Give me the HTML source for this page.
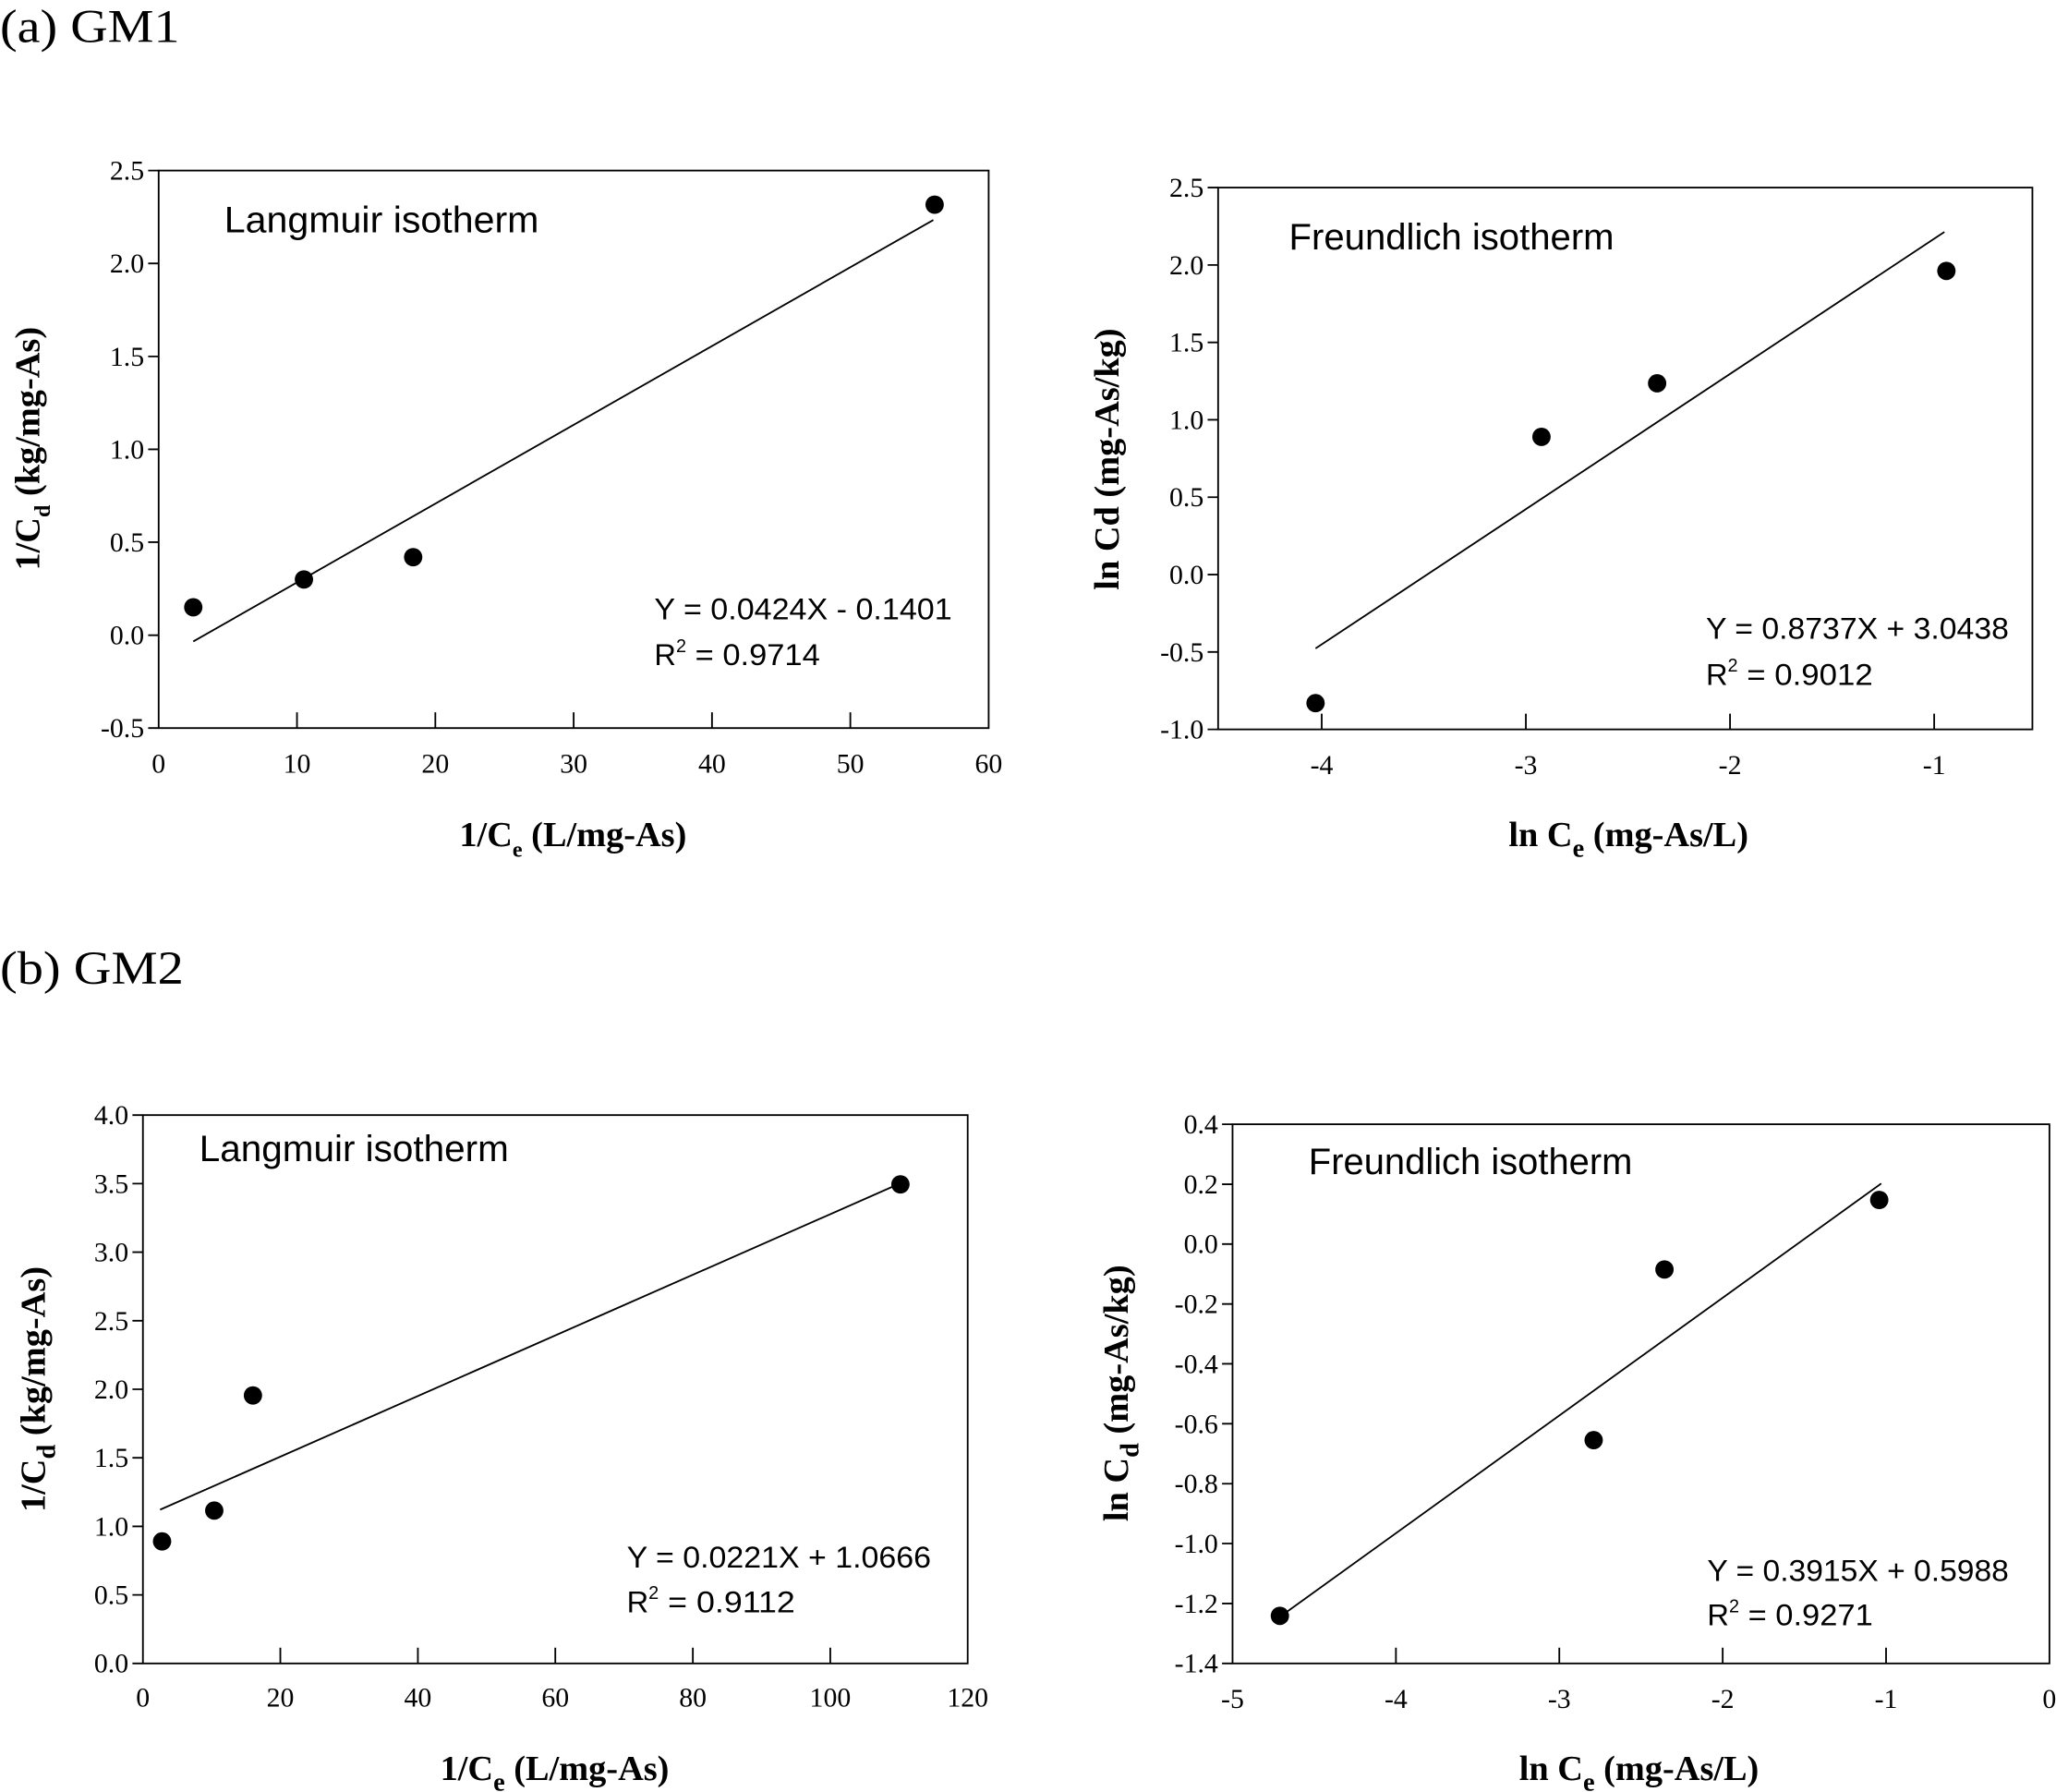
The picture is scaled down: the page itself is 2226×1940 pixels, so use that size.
<!DOCTYPE html>
<html><head><meta charset="utf-8"><style>
html,body{margin:0;padding:0;background:#fff;}
svg{display:block;}
.t{font-family:"Liberation Serif",serif;font-size:21px;fill:#000;}
.ax{font-family:"Liberation Serif",serif;font-size:27px;font-weight:bold;fill:#000;}
.s{font-family:"Liberation Sans",sans-serif;fill:#000;}
</style></head><body>
<svg width="2226" height="1940" viewBox="0 0 1568 1366" preserveAspectRatio="none" xmlns="http://www.w3.org/2000/svg">
<rect width="1568" height="1366" fill="#fff"/>
<text x="0" y="32" font-family="Liberation Serif, serif" font-size="36" textLength="137" lengthAdjust="spacingAndGlyphs">(a) GM1</text>
<text x="0" y="750" font-family="Liberation Serif, serif" font-size="36" textLength="140" lengthAdjust="spacingAndGlyphs">(b) GM2</text>
<g stroke="#000" stroke-width="1.3" fill="none">
<rect x="121" y="130" width="633" height="425"/>
<path d="M113 130H121M113 200.8H121M113 271.7H121M113 342.5H121M113 413.3H121M113 484.2H121M113 555H121"/>
<path d="M226.5 555V543M332 555V543M437.5 555V543M543 555V543M648.5 555V543"/>
<line x1="147.4" y1="489" x2="711.8" y2="167.7"/>
<rect x="929" y="143" width="621" height="413"/>
<path d="M921 143H929M921 202H929M921 261H929M921 320H929M921 379H929M921 438H929M921 497H929M921 556H929"/>
<path d="M1008 556V544M1163.7 556V544M1319.4 556V544M1475.1 556V544"/>
<line x1="1003.3" y1="494.3" x2="1482.9" y2="176.8"/>
<rect x="109" y="850" width="629" height="418"/>
<path d="M101 1268H109M101 1215.75H109M101 1163.5H109M101 1111.25H109M101 1059H109M101 1006.75H109M101 954.5H109M101 902.25H109M101 850H109"/>
<path d="M213.8 1268V1256M318.7 1268V1256M423.5 1268V1256M528.4 1268V1256M633.2 1268V1256"/>
<line x1="122.1" y1="1150.8" x2="688.2" y2="901.3"/>
<rect x="940" y="857" width="623" height="411"/>
<path d="M932 857H940M932 902.7H940M932 948.3H940M932 994H940M932 1039.6H940M932 1085.3H940M932 1131H940M932 1176.6H940M932 1222.3H940M932 1268H940"/>
<path d="M1064.6 1268V1256M1189.2 1268V1256M1313.8 1268V1256M1438.4 1268V1256"/>
<line x1="973.6" y1="1234.3" x2="1434.7" y2="902.2"/>
</g>
<g fill="#000">
<circle cx="147.4" cy="462.9" r="7"/><circle cx="231.8" cy="441.7" r="7"/><circle cx="315.1" cy="424.7" r="7"/><circle cx="712.8" cy="156" r="7"/>
<circle cx="1003.3" cy="536" r="7"/><circle cx="1175.6" cy="333" r="7"/><circle cx="1263.8" cy="292.2" r="7"/><circle cx="1484.4" cy="206.5" r="7"/>
<circle cx="123.6" cy="1175" r="7"/><circle cx="163.4" cy="1151.5" r="7"/><circle cx="192.9" cy="1063.7" r="7"/><circle cx="686.7" cy="902.8" r="7"/>
<circle cx="976.1" cy="1231.7" r="7"/><circle cx="1215.4" cy="1097.8" r="7"/><circle cx="1269.4" cy="967.7" r="7"/><circle cx="1433.2" cy="914.7" r="7"/>
</g>
<g class="t" text-anchor="end">
<text x="110" y="137">2.5</text><text x="110" y="207.8">2.0</text><text x="110" y="278.7">1.5</text><text x="110" y="349.5">1.0</text><text x="110" y="420.3">0.5</text><text x="110" y="491.2">0.0</text><text x="110" y="562">-0.5</text>
<text x="918" y="150">2.5</text><text x="918" y="209">2.0</text><text x="918" y="268">1.5</text><text x="918" y="327">1.0</text><text x="918" y="386">0.5</text><text x="918" y="445">0.0</text><text x="918" y="504">-0.5</text><text x="918" y="563">-1.0</text>
<text x="98" y="857">4.0</text><text x="98" y="909.3">3.5</text><text x="98" y="961.5">3.0</text><text x="98" y="1013.8">2.5</text><text x="98" y="1066">2.0</text><text x="98" y="1118.3">1.5</text><text x="98" y="1170.5">1.0</text><text x="98" y="1222.8">0.5</text><text x="98" y="1275">0.0</text>
<text x="929" y="864">0.4</text><text x="929" y="909.7">0.2</text><text x="929" y="955.3">0.0</text><text x="929" y="1001">-0.2</text><text x="929" y="1046.6">-0.4</text><text x="929" y="1092.3">-0.6</text><text x="929" y="1138">-0.8</text><text x="929" y="1183.6">-1.0</text><text x="929" y="1229.3">-1.2</text><text x="929" y="1275">-1.4</text>
</g>
<g class="t" text-anchor="middle">
<text x="121" y="589">0</text><text x="226.5" y="589">10</text><text x="332" y="589">20</text><text x="437.5" y="589">30</text><text x="543" y="589">40</text><text x="648.5" y="589">50</text><text x="754" y="589">60</text>
<text x="1008" y="590">-4</text><text x="1163.7" y="590">-3</text><text x="1319.4" y="590">-2</text><text x="1475.1" y="590">-1</text>
<text x="109" y="1301">0</text><text x="213.8" y="1301">20</text><text x="318.7" y="1301">40</text><text x="423.5" y="1301">60</text><text x="528.4" y="1301">80</text><text x="633.2" y="1301">100</text><text x="738" y="1301">120</text>
<text x="940" y="1302">-5</text><text x="1064.6" y="1302">-4</text><text x="1189.2" y="1302">-3</text><text x="1313.8" y="1302">-2</text><text x="1438.4" y="1302">-1</text><text x="1563" y="1302">0</text>
</g>
<text class="ax" x="437" y="645" text-anchor="middle">1/C<tspan font-size="17" dy="8">e</tspan><tspan dy="-8"> (L/mg-As)</tspan></text>
<text class="ax" x="1242" y="645" text-anchor="middle">ln C<tspan font-size="20" dy="8">e</tspan><tspan dy="-8"> (mg-As/L)</tspan></text>
<text class="ax" x="423" y="1357" text-anchor="middle">1/C<tspan font-size="20" dy="8">e</tspan><tspan dy="-8"> (L/mg-As)</tspan></text>
<text class="ax" x="1250" y="1357" text-anchor="middle">ln C<tspan font-size="20" dy="8">e</tspan><tspan dy="-8"> (mg-As/L)</tspan></text>
<text class="ax" transform="translate(30,342) rotate(-90)" text-anchor="middle">1/C<tspan font-size="17" dy="8">d</tspan><tspan dy="-8"> (kg/mg-As)</tspan></text>
<text class="ax" transform="translate(853,350) rotate(-90)" text-anchor="middle">ln Cd (mg-As/kg)</text>
<text class="ax" transform="translate(34,1059) rotate(-90)" text-anchor="middle">1/C<tspan font-size="20" dy="8">d</tspan><tspan dy="-8"> (kg/mg-As)</tspan></text>
<text class="ax" transform="translate(860,1062) rotate(-90)" text-anchor="middle">ln C<tspan font-size="20" dy="8">d</tspan><tspan dy="-8"> (mg-As/kg)</tspan></text>
<g class="s">
<text x="171" y="177" font-size="28" textLength="240" lengthAdjust="spacingAndGlyphs">Langmuir isotherm</text>
<text x="983" y="190" font-size="28" textLength="248" lengthAdjust="spacingAndGlyphs">Freundlich isotherm</text>
<text x="152" y="885" font-size="28" textLength="236" lengthAdjust="spacingAndGlyphs">Langmuir isotherm</text>
<text x="998" y="895" font-size="28" textLength="247" lengthAdjust="spacingAndGlyphs">Freundlich isotherm</text>
<g font-size="23">
<text x="499" y="472" textLength="227" lengthAdjust="spacingAndGlyphs">Y = 0.0424X - 0.1401</text>
<text x="499" y="507">R<tspan font-size="14" dy="-10">2</tspan><tspan dy="10" textLength="102" lengthAdjust="spacingAndGlyphs"> = 0.9714</tspan></text>
<text x="1301" y="487" textLength="231" lengthAdjust="spacingAndGlyphs">Y = 0.8737X + 3.0438</text>
<text x="1301" y="522">R<tspan font-size="14" dy="-10">2</tspan><tspan dy="10" textLength="103" lengthAdjust="spacingAndGlyphs"> = 0.9012</tspan></text>
<text x="478" y="1195" textLength="232" lengthAdjust="spacingAndGlyphs">Y = 0.0221X + 1.0666</text>
<text x="478" y="1229">R<tspan font-size="14" dy="-10">2</tspan><tspan dy="10" textLength="104" lengthAdjust="spacingAndGlyphs"> = 0.9112</tspan></text>
<text x="1302" y="1205" textLength="230" lengthAdjust="spacingAndGlyphs">Y = 0.3915X + 0.5988</text>
<text x="1302" y="1239">R<tspan font-size="14" dy="-10">2</tspan><tspan dy="10" textLength="102" lengthAdjust="spacingAndGlyphs"> = 0.9271</tspan></text>
</g>
</g>
</svg>
</body></html>
